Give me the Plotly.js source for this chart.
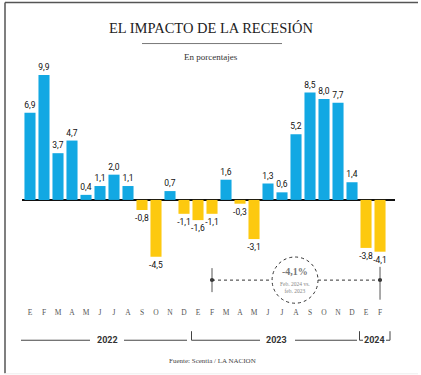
<!DOCTYPE html>
<html>
<head>
<meta charset="utf-8">
<script src="https://cdn.plot.ly/plotly-3.0.1.min.js"></script>
<style>html,body{margin:0;padding:0;background:#fff;}#chart{width:421px;height:375px;}</style>
</head>
<body>
<div id="chart"></div>
<script>
// ---- data ----
var months = ["E","F","M","A","M","J","J","A","S","O","N","D",
              "E","F","M","A","M","J","J","A","S","O","N","D",
              "E","F"];
var values = [6.9, 9.9, 3.7, 4.7, 0.4, 1.1, 2.0, 1.1, -0.8, -4.5, 0.7, -1.1,
              -1.6, -1.1, 1.6, -0.3, -3.1, 1.3, 0.6, 5.2, 8.5, 8.0, 7.7, 1.4,
              -3.8, -4.1];
var years = ["2022", "2023", "2024"];
var yearCenters = [5.5, 17.6, 24.6];
var compareLabel = "-4,1%";
var compareNote = "Feb. 2024 vs.<br>feb. 2023";
var compareFrom = 13, compareTo = 25;

// ---- geometry helpers ----
var W = 421, Hh = 375;
var L = 22, R = 395, T = 61.4, B = 305.84;
var xr0 = -0.571, xr1 = 26.07;
function px(p){ return (p - L) / (R - L); }
function py(p){ return (B - p) / (B - T); }

var xs = values.map(function(v, i){ return i; });
var colors = values.map(function(v){ return v >= 0 ? "#12A8E3" : "#FDC90F"; });
var labels = values.map(function(v){ return v.toFixed(1).replace(".", ","); });

var bars = {
  type: "bar", x: xs, y: values,
  marker: {color: colors, line: {width: 0}},
  text: labels, textposition: "outside", cliponaxis: false,
  textfont: {family: "Roboto", size: 8.5, color: "#111"},
  constraintext: "none", hoverinfo: "skip"
};

var dots = {
  type: "scatter", mode: "markers",
  x: [compareFrom, compareTo], y: [-6.35, -6.35],
  marker: {size: 4, color: "#222"}, hoverinfo: "skip", cliponaxis: false
};

var lineC = "#444";
var shapes = [
  {type: "line", xref: "paper", yref: "paper", x0: px(5), x1: px(418), y0: py(3), y1: py(3), line: {color: "#555", width: 1.5}},
  {type: "line", xref: "paper", yref: "paper", x0: px(5), x1: px(5), y0: py(3), y1: py(373), line: {color: "#555", width: 1.5}},
  {type: "line", xref: "paper", yref: "paper", x0: px(5), x1: px(418), y0: py(373.5), y1: py(373.5), line: {color: "#eee", width: 1}},
  {type: "line", xref: "paper", yref: "paper", x0: px(142), x1: px(282), y0: py(44), y1: py(44), line: {color: "#777", width: 1}},
  {type: "line", xref: "x", yref: "y", x0: compareFrom, x1: compareFrom, y0: -5.4, y1: -7.3, line: {color: "#555", width: 1}},
  {type: "line", xref: "x", yref: "y", x0: compareTo, x1: compareTo, y0: -5.3, y1: -7.9, line: {color: "#555", width: 1}},
  {type: "line", xref: "x", yref: "y", x0: compareFrom, x1: 17.29, y0: -6.35, y1: -6.35, line: {color: "#333", width: 1, dash: "dot"}},
  {type: "line", xref: "x", yref: "y", x0: 20.57, x1: compareTo, y0: -6.35, y1: -6.35, line: {color: "#333", width: 1, dash: "dot"}},
  {type: "circle", xref: "x", yref: "y", x0: 17.29, x1: 20.57, y0: -8.18, y1: -4.52, line: {color: "#333", width: 1, dash: "dot"}},
  {type: "line", xref: "paper", yref: "paper", x0: px(21), x1: px(90), y0: py(340), y1: py(340), line: {color: lineC, width: 1}},
  {type: "line", xref: "paper", yref: "paper", x0: px(124), x1: px(187), y0: py(340), y1: py(340), line: {color: lineC, width: 1}},
  {type: "line", xref: "paper", yref: "paper", x0: px(191.5), x1: px(191.5), y0: py(331), y1: py(340), line: {color: lineC, width: 1}},
  {type: "line", xref: "paper", yref: "paper", x0: px(191.5), x1: px(260), y0: py(340), y1: py(340), line: {color: lineC, width: 1}},
  {type: "line", xref: "paper", yref: "paper", x0: px(295), x1: px(357), y0: py(340), y1: py(340), line: {color: lineC, width: 1}},
  {type: "line", xref: "paper", yref: "paper", x0: px(359.5), x1: px(359.5), y0: py(331), y1: py(340), line: {color: lineC, width: 1}},
  {type: "line", xref: "paper", yref: "paper", x0: px(359.5), x1: px(363), y0: py(340), y1: py(340), line: {color: lineC, width: 1}},
  {type: "line", xref: "paper", yref: "paper", x0: px(386), x1: px(390), y0: py(340), y1: py(340), line: {color: lineC, width: 1}},
  {type: "line", xref: "paper", yref: "paper", x0: px(390), x1: px(390), y0: py(331), y1: py(340), line: {color: lineC, width: 1}}
];

var annotations = [
  {xref: "paper", yref: "paper", x: px(211), y: py(57), text: "En porcentajes", showarrow: false,
   font: {family: "Liberation Serif", size: 9, color: "#333"}, xanchor: "center", yanchor: "middle"},
  {xref: "paper", yref: "paper", x: px(212), y: py(361), text: "Fuente: Scentia / LA NACION", showarrow: false,
   font: {family: "Liberation Serif", size: 7, color: "#444"}, xanchor: "center", yanchor: "middle"},
  {xref: "x", yref: "y", x: 18.93, y: -5.7, text: "<b>" + compareLabel + "</b>", showarrow: false,
   font: {family: "Liberation Serif", size: 10, color: "#777"}, xanchor: "center", yanchor: "middle"},
  {xref: "x", yref: "y", x: 18.93, y: -6.95, text: compareNote, showarrow: false,
   font: {family: "Liberation Serif", size: 5.5, color: "#888"}, xanchor: "center", yanchor: "middle"}
];
years.forEach(function(yv, i){
  annotations.push({xref: "x", yref: "paper", x: yearCenters[i], y: py(340), text: "<b>" + yv + "</b>",
    showarrow: false, font: {family: "Roboto", size: 9, color: "#333"}, xanchor: "center", yanchor: "middle"});
});

var layout = {
  width: W, height: Hh,
  margin: {l: L, r: W - R, t: T, b: Hh - B, pad: 0},
  paper_bgcolor: "#fff", plot_bgcolor: "#fff",
  showlegend: false, bargap: 0.21,
  title: {text: "EL IMPACTO DE LA RECESIÓN", x: 211 / W, xref: "container", xanchor: "center",
          y: 1 - 28 / Hh, yref: "container", yanchor: "middle",
          font: {family: "Liberation Serif", size: 14.5, color: "#222"}},
  xaxis: {range: [xr0, xr1], tickmode: "array", tickvals: xs, ticktext: months,
          showgrid: false, zeroline: false, showline: false, ticks: "",
          tickfont: {family: "Liberation Serif", size: 7.5, color: "#555"}, fixedrange: true},
  yaxis: {range: [-8.4, 11], showgrid: false, showticklabels: false, ticks: "",
          zeroline: true, zerolinecolor: "#111", zerolinewidth: 1.5, showline: false, fixedrange: true},
  shapes: shapes, annotations: annotations
};

Plotly.newPlot("chart", [bars, dots], layout, {displayModeBar: false, staticPlot: true});
</script>
</body>
</html>
